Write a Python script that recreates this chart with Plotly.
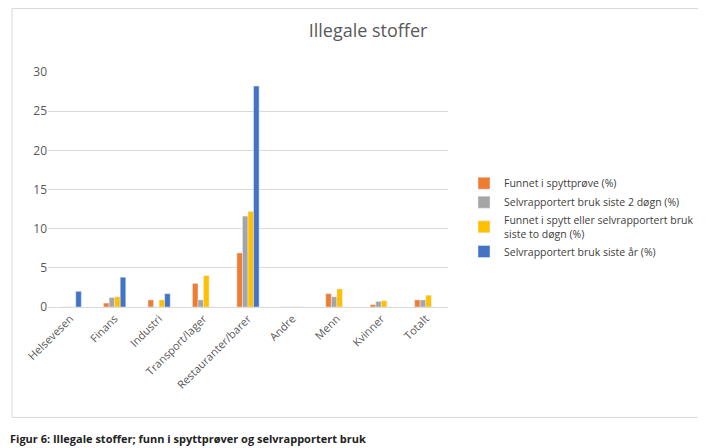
import plotly.graph_objects as go

categories = ["Helsevesen", "Finans", "Industri", "Transport/lager", "Restauranter/barer",
              "Andre", "Menn", "Kvinner", "Totalt"]
funnet_spytt = [0, 0.5, 0.9, 3.0, 6.9, 0, 1.7, 0.3, 0.9]
selvrapp_2dogn = [0, 1.2, 0, 0.9, 11.6, 0, 1.3, 0.7, 0.9]
spytt_eller_selvrapp = [0, 1.3, 0.9, 4.0, 12.2, 0, 2.3, 0.8, 1.5]
selvrapp_aar = [2.0, 3.8, 1.7, 0, 28.2, 0, 0, 0, 0]

series = [
    ("Funnet i spyttprøve (%)", funnet_spytt, "#ED7D31"),
    ("Selvrapportert bruk siste 2 døgn (%)", selvrapp_2dogn, "#A5A5A5"),
    ("Funnet i spytt eller selvrapportert bruk<br>siste to døgn (%)", spytt_eller_selvrapp, "#FFC000"),
    ("Selvrapportert bruk siste år (%)", selvrapp_aar, "#4472C4"),
]

fig = go.Figure()
for name, vals, color in series:
    fig.add_trace(go.Bar(x=categories, y=vals, name=name, marker_color=color))

fig.update_layout(
    width=706, height=448,
    paper_bgcolor="white", plot_bgcolor="white",
    font=dict(family="Open Sans, Arial", size=11, color="#595959"),
    title=dict(text="Illegale stoffer", x=0.51, y=0.95, xanchor="center", yanchor="middle",
               font=dict(size=18, color="#595959")),
    barmode="group", bargap=0.5, bargroupgap=0,
    margin=dict(l=40, r=266, t=64, b=149),
    legend=dict(x=1.04, y=0.38, yanchor="middle", font=dict(size=10.5, color="#404040"),
                tracegroupgap=8),
    showlegend=True,
)
fig.update_yaxes(range=[0, 30], dtick=5, gridcolor="#D9D9D9", zeroline=False,
                 tickfont=dict(size=12))
fig.update_xaxes(tickangle=-45, showline=True, linecolor="#D9D9D9", tickfont=dict(size=11))
fig.add_shape(type="rect", xref="paper", yref="paper", x0=-0.09, x1=1.66, y0=-0.47, y1=1.27,
              line=dict(color="#D9D9D9", width=1))
fig.add_annotation(text="<b>Figur 6: Illegale stoffer; funn i spyttprøver og selvrapportert bruk</b>",
                   xref="paper", yref="paper", x=-0.1, y=-0.6, xanchor="left", showarrow=False,
                   font=dict(size=11, color="#222"))
fig.write_html("out.html")
